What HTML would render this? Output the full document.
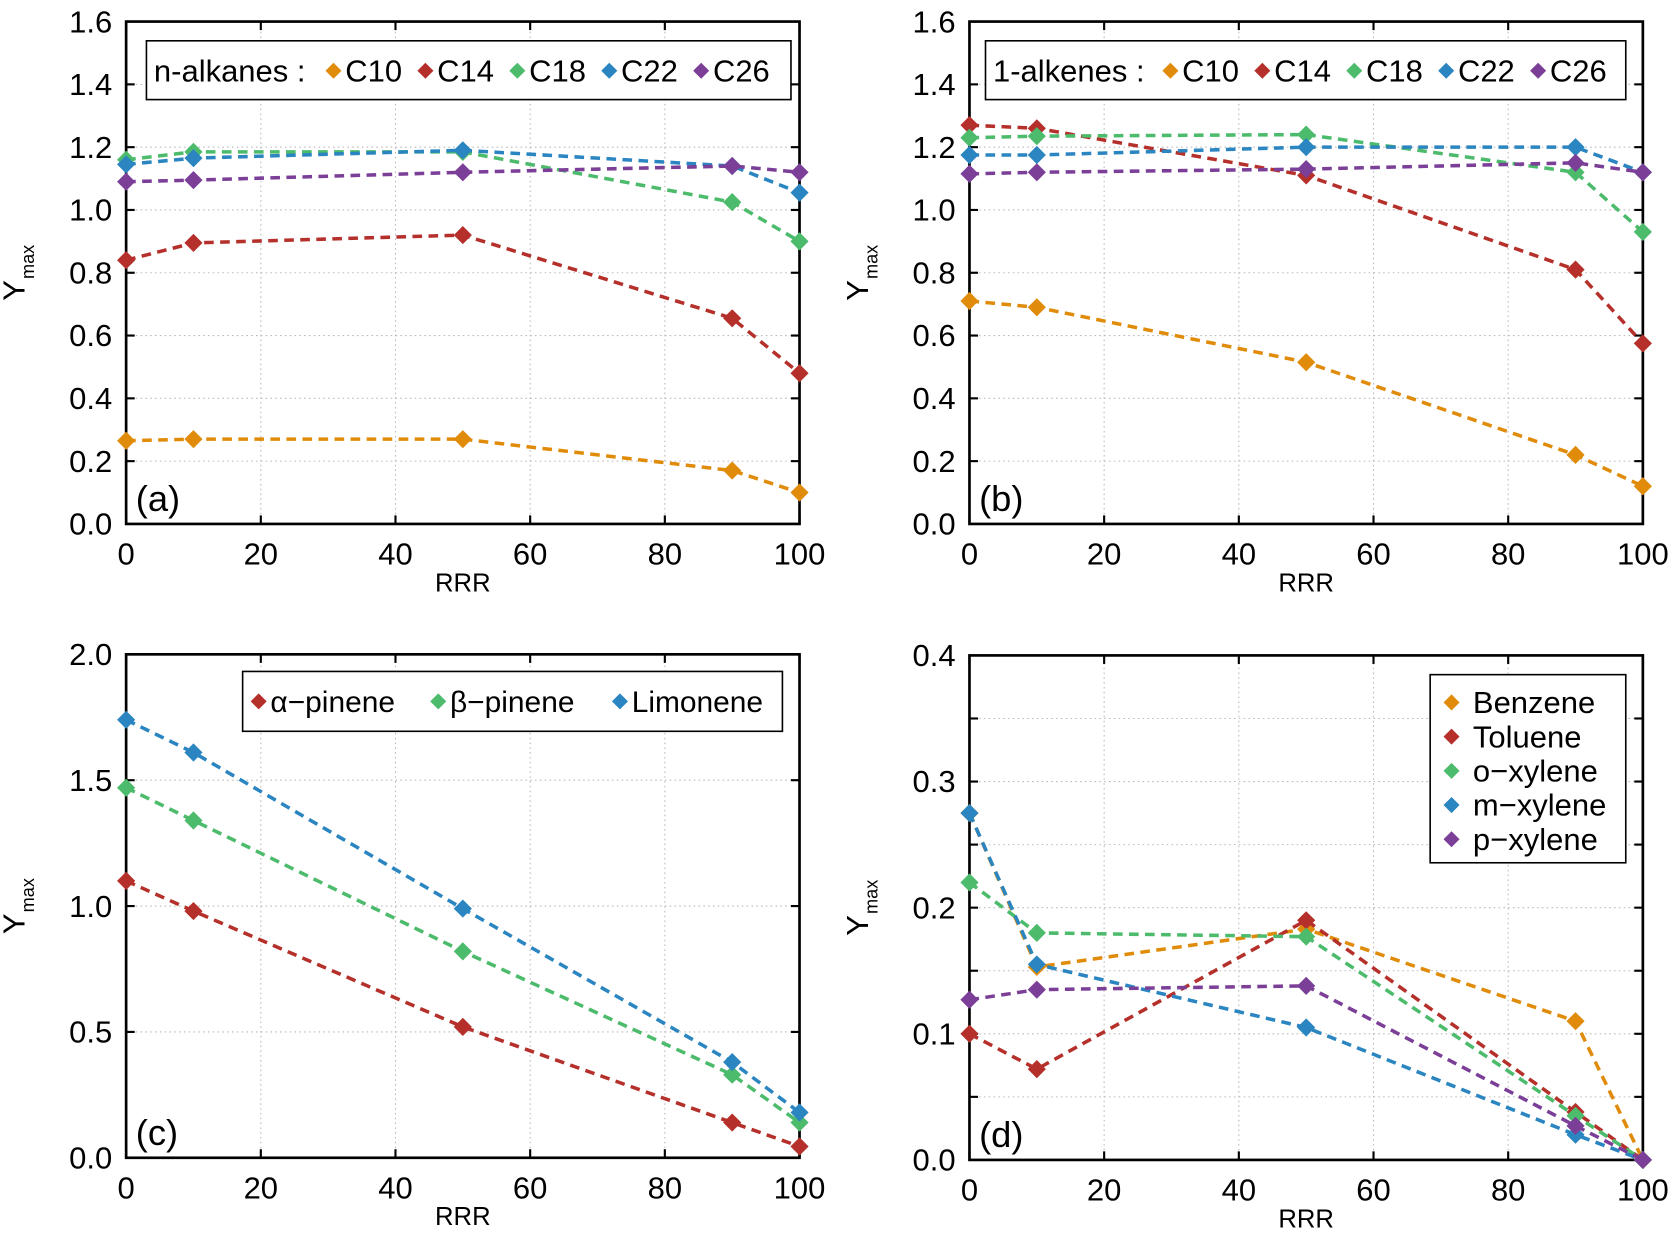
<!DOCTYPE html>
<html><head><meta charset="utf-8"><style>
html,body{margin:0;padding:0;background:#fff;}
svg{display:block;font-family:"Liberation Sans Narrow","Liberation Sans",sans-serif;}
</style></head><body>
<svg id="fig" width="1676" height="1236" viewBox="0 0 1568 1156" xmlns="http://www.w3.org/2000/svg"></svg>
<script>
const xCats = [0, 10, 50, 90, 100];
const xTicks = [0, 20, 40, 60, 80, 100];
// panel a: n-alkanes
const aC10 = [0.265, 0.27, 0.27, 0.17, 0.10];
const aC14 = [0.84, 0.895, 0.92, 0.655, 0.48];
const aC18 = [1.16, 1.185, 1.185, 1.025, 0.90];
const aC22 = [1.145, 1.165, 1.19, 1.14, 1.055];
const aC26 = [1.09, 1.095, 1.12, 1.14, 1.12];
// panel b: 1-alkenes
const bC10 = [0.71, 0.69, 0.515, 0.22, 0.12];
const bC14 = [1.27, 1.26, 1.11, 0.81, 0.575];
const bC18 = [1.23, 1.235, 1.24, 1.12, 0.93];
const bC22 = [1.175, 1.175, 1.2, 1.2, 1.12];
const bC26 = [1.115, 1.12, 1.13, 1.15, 1.12];
// panel c: terpenes
const cAlpha = [1.1, 0.98, 0.52, 0.14, 0.045];
const cBeta = [1.47, 1.34, 0.82, 0.33, 0.14];
const cLim = [1.74, 1.61, 0.99, 0.38, 0.18];
// panel d: aromatics
const dBenz = [0.275, 0.153, 0.183, 0.11, 0];
const dTol = [0.10, 0.072, 0.19, 0.038, 0];
const dOx = [0.22, 0.18, 0.177, 0.035, 0];
const dMx = [0.275, 0.155, 0.105, 0.02, 0];
const dPx = [0.127, 0.135, 0.138, 0.027, 0];
const yTicksAB = ["0.0","0.2","0.4","0.6","0.8","1.0","1.2","1.4","1.6"];
const yTicksC = ["0.0","0.5","1.0","1.5","2.0"];
const yTicksD = ["0.0","0.1","0.2","0.3","0.4"];

const COL = {o:"#e08c0a", r:"#b5302a", g:"#4cbb6c", b:"#2a85c0", p:"#7b3f98"};
const NS = "http://www.w3.org/2000/svg";
const svg = document.getElementById("fig");
function mk(tag, attrs, parent, text){
  const e = document.createElementNS(NS, tag);
  for (const k in attrs) e.setAttribute(k, attrs[k]);
  if (text !== undefined) e.textContent = text;
  (parent || svg).appendChild(e);
  return e;
}
function diamond(g, x, y, c, s){
  s = s || 8.5;
  return mk("polygon", {points:`${x},${y-s} ${x+s},${y} ${x},${y+s} ${x-s},${y}`, fill:c}, g);
}
function panel(opt){
  const g = mk("g", {});
  
  
  const X = v => opt.x0 + (v - 0) / 100 * (opt.x1 - opt.x0);
  const Y = v => opt.y0 - v / opt.ymax * (opt.y0 - opt.y1);
  const gridVals = [];
  for (let v = opt.gstep; v < opt.ymax - 1e-9; v += opt.gstep) gridVals.push(v);
  gridVals.forEach(v => mk("line", {x1:opt.x0, x2:opt.x1, y1:Y(v), y2:Y(v), stroke:"#bbb", "stroke-width":1, "stroke-dasharray":"1.5 3"}, g));
  xTicks.slice(1, -1).forEach(v => mk("line", {x1:X(v), x2:X(v), y1:opt.y0, y2:opt.y1, stroke:"#bbb", "stroke-width":1, "stroke-dasharray":"1.5 3"}, g));
  gridVals.forEach(v => {
    mk("line", {x1:opt.x0, x2:opt.x0+8, y1:Y(v), y2:Y(v), stroke:"#000", "stroke-width":2}, g);
    mk("line", {x1:opt.x1, x2:opt.x1-8, y1:Y(v), y2:Y(v), stroke:"#000", "stroke-width":2}, g);
  });
  xTicks.forEach(v => {
    mk("line", {x1:X(v), x2:X(v), y1:opt.y0, y2:opt.y0-8, stroke:"#000", "stroke-width":2}, g);
    mk("line", {x1:X(v), x2:X(v), y1:opt.y1, y2:opt.y1+8, stroke:"#000", "stroke-width":2}, g);
    const t = mk("text", {x:X(v), y:opt.y0+38, "font-size":29, "text-anchor":"middle"}, g, String(v));
    
    
  });
  opt.yLabels.forEach((lab, i) => {
    const v = i * opt.ymax / (opt.yLabels.length - 1);
    const t = mk("text", {x:opt.x0-13, y:Y(v)+10, "font-size":29, "text-anchor":"end"}, g, lab);
    
    
  });
  const fr = mk("rect", {x:opt.x0, y:opt.y1, width:opt.x1-opt.x0, height:opt.y0-opt.y1, fill:"none", stroke:"#000", "stroke-width":2.5}, g);
  
  
  const xt = mk("text", {x:(opt.x0+opt.x1)/2, y:opt.y0+63, "font-size":24, "text-anchor":"middle"}, g, "RRR");
  
  
  const yx = opt.x0 - 95, yy = (opt.y0 + opt.y1) / 2;
  const yt = mk("text", {x:yx, y:yy, "font-size":29, transform:`rotate(-90 ${yx} ${yy})`, "text-anchor":"middle"}, g);
  
  
  mk("tspan", {}, yt, "Y");
  mk("tspan", {"font-size":17, dy:9, dx:1}, yt, "max");
  const pl = mk("text", {x:opt.x0+9, y:opt.y0-12, "font-size":34}, g, opt.tag);
  
  
  opt.series.forEach(s => {
    const sg = mk("g", {}, g);
    
    
    const pts = xCats.map((x, i) => `${X(x)},${Y(s.data[i])}`).join(" ");
    mk("polyline", {points:pts, fill:"none", stroke:s.c, "stroke-width":3.3, "stroke-dasharray":"9 6"}, sg);
    xCats.forEach((x, i) => {
      const d = diamond(sg, X(x), Y(s.data[i]), s.c);
      
      
    });
  });
  const L = opt.legend;
  const lg = mk("g", {}, g);
  
  
  mk("rect", {x:L.x, y:L.y, width:L.w, height:L.h, fill:"#fff", stroke:"#000", "stroke-width":1.5}, lg);
  if (L.horizontal) {
    let cx = L.x + 7;
    if (L.prefix) { mk("text", {x:cx, y:L.y+38, "font-size":29}, lg, L.prefix); cx += L.prefixW; }
    opt.series.forEach((s, i) => {
      diamond(lg, cx + 8, L.y + 28, s.c, 7.5);
      const t = mk("text", {x:cx + 19, y:L.y + 38, "font-size":L.fs || 29}, lg, s.label);
      
      
      cx += L.itemW[i];
    });
  } else {
    opt.series.forEach((s, i) => {
      const y = L.y + 26 + i * 32;
      diamond(lg, L.x + 20, y, s.c, 7.5);
      const t = mk("text", {x:L.x + 40, y:y + 10, "font-size":29}, lg, s.label);
      
      
    });
  }
}
panel({name:"panel-a-n-alkanes", tag:"(a)", x0:118, x1:748, y0:490, y1:20, ymax:1.6, gstep:0.2, yLabels:yTicksAB,
  series:[{label:"C10",data:aC10,c:COL.o},{label:"C14",data:aC14,c:COL.r},{label:"C18",data:aC18,c:COL.g},{label:"C22",data:aC22,c:COL.b},{label:"C26",data:aC26,c:COL.p}],
  legend:{x:137,y:38,w:603,h:55,horizontal:true,prefix:"n-alkanes :",prefixW:160,itemW:[86,86,86,86,86]}});
panel({name:"panel-b-1-alkenes", tag:"(b)", x0:907, x1:1537, y0:490, y1:20, ymax:1.6, gstep:0.2, yLabels:yTicksAB,
  series:[{label:"C10",data:bC10,c:COL.o},{label:"C14",data:bC14,c:COL.r},{label:"C18",data:bC18,c:COL.g},{label:"C22",data:bC22,c:COL.b},{label:"C26",data:bC26,c:COL.p}],
  legend:{x:922,y:38,w:599,h:55,horizontal:true,prefix:"1-alkenes :",prefixW:158,itemW:[86,86,86,86,86]}});
panel({name:"panel-c-terpenes", tag:"(c)", x0:118, x1:748, y0:1083, y1:612, ymax:2.0, gstep:0.5, yLabels:yTicksC,
  series:[{label:"α−pinene",data:cAlpha,c:COL.r},{label:"β−pinene",data:cBeta,c:COL.g},{label:"Limonene",data:cLim,c:COL.b}],
  legend:{x:227,y:628,w:505,h:56,horizontal:true,itemW:[168,170,160],fs:28}});
panel({name:"panel-d-aromatics", tag:"(d)", x0:907, x1:1537, y0:1085, y1:613, ymax:0.4, gstep:0.05, yLabels:yTicksD,
  series:[{label:"Benzene",data:dBenz,c:COL.o},{label:"Toluene",data:dTol,c:COL.r},{label:"o−xylene",data:dOx,c:COL.g},{label:"m−xylene",data:dMx,c:COL.b},{label:"p−xylene",data:dPx,c:COL.p}],
  legend:{x:1338,y:631,w:183,h:176,horizontal:false}});
</script>
</body></html>
